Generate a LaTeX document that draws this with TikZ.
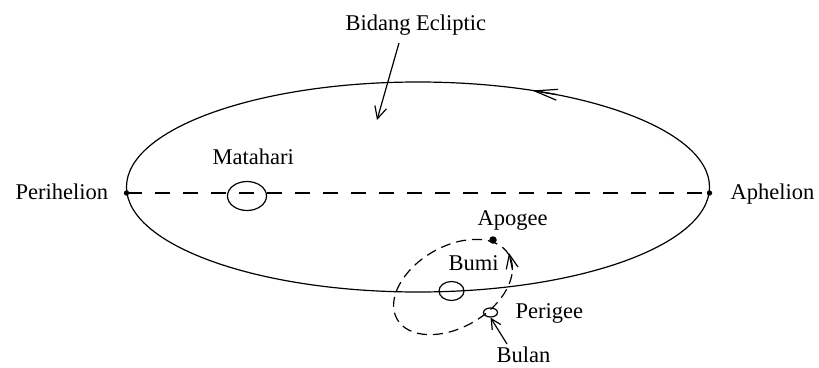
\documentclass[tikz,border=0pt]{standalone}
\usepackage{fontspec}
\setmainfont{Liberation Serif}
\usetikzlibrary{shapes.geometric,arrows.meta}
\begin{document}
\begin{tikzpicture}[x=1pt,y=-1pt,
  lbl/.style={anchor=base west, inner sep=0pt, font=\fontsize{22.5}{26}\selectfont},
  body/.style={draw, ellipse, inner sep=0pt},
  barb/.style={-{Straight Barb[length=#1, width=#1]}},
  line width=1.2pt]
\useasboundingbox (0,0) rectangle (819,367);
% orbit of the earth
\node[draw, ellipse, inner sep=0pt, minimum width=583pt, minimum height=210pt] (orbit) at (418,187) {};
\coordinate (peri) at (126.5,193);
\coordinate (aph) at (709.5,193);
\draw[dash pattern=on 15pt off 13pt] (peri) -- (aph);
\fill (peri) circle (2.7);
\fill (aph) circle (2.7);
% sun
\node[body, minimum width=39pt, minimum height=29pt] (sun) at (247,196) {};
% earth
\node[body, minimum width=25pt, minimum height=19pt] (earth) at (451.5,291) {};
% moon orbit
\node[draw, ellipse, inner sep=0pt, dash pattern=on 10pt off 6pt, minimum width=129pt, minimum height=81pt, rotate=30] (moonorbit) at (453,287) {};
\node[circle, fill, inner sep=0pt, minimum size=7.5pt] (apogeedot) at (493,240) {};
\node[body, minimum width=14pt, minimum height=9pt] (moon) at (490.5,312.5) {};
% direction arrows
\coordinate (o1) at (557,94.7);
\coordinate (o2) at (532,90.5);
\draw[-{Straight Barb[length=23pt,width=11pt]}] (o1) -- (o2);
\coordinate (m1) at (512.5,270);
\coordinate (m2) at (509,253);
\draw[-{Straight Barb[length=14pt,width=12pt]}] (m1) -- (m2);
% labels
\node[lbl] (bidang) at (345,30) {Bidang Ecliptic};
\node[lbl] (perilbl) at (15,199) {Perihelion};
\node[lbl, anchor=base east] (aphlbl) at (815,199) {Aphelion};
\node[lbl] (matahari) at (212,164) {Matahari};
\node[lbl] (apogee) at (477,225) {Apogee};
\node[lbl] (bumi) at (448,270) {Bumi};
\node[lbl] (perigee) at (515,318) {Perigee};
\node[lbl] (bulan) at (496,362) {Bulan};
% pointer arrows
\coordinate (bidtail) at (399,43);
\coordinate (bidtip) at (377,120);
\draw[barb=12pt] (bidtail) -- (bidtip);
\coordinate (bultail) at (507,344);
\draw[barb=10pt] (bultail) -- (moon.south);
\end{tikzpicture}
\end{document}
